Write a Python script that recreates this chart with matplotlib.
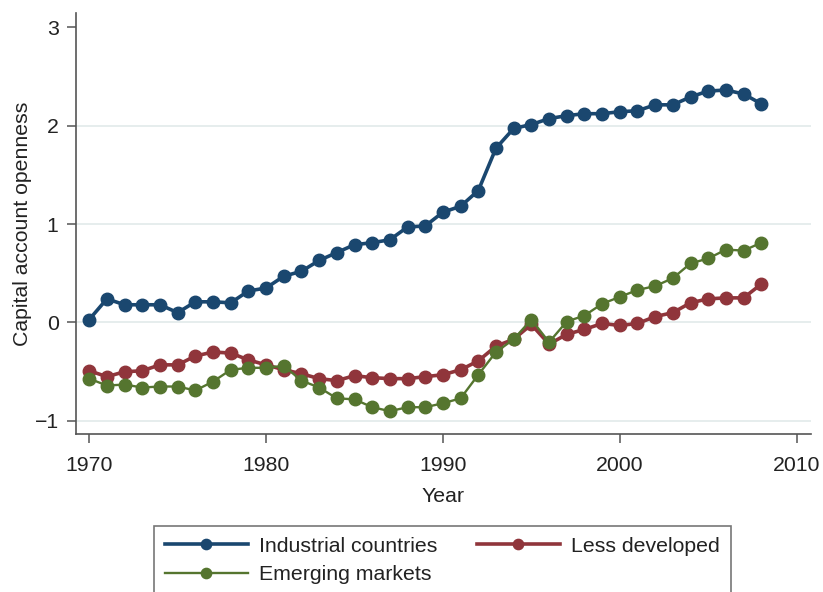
# capital_openness.py
# Capital account openness by country group, 1970-2008 (Stata-like look)

import numpy as np
import matplotlib.pyplot as plt
from matplotlib.lines import Line2D

# =========================
# DATA
# =========================

YEARS = list(range(1970, 2009))

INDUSTRIAL = [
    0.03, 0.24, 0.18, 0.18, 0.18, 0.10, 0.21, 0.21, 0.20, 0.32,
    0.35, 0.47, 0.52, 0.63, 0.71, 0.79, 0.81, 0.84, 0.97, 0.98,
    1.12, 1.18, 1.34, 1.77, 1.97, 2.01, 2.07, 2.10, 2.12, 2.12,
    2.14, 2.15, 2.21, 2.21, 2.29, 2.35, 2.36, 2.32, 2.22,
]

LESS_DEVELOPED = [
    -0.49, -0.55, -0.50, -0.49, -0.43, -0.43, -0.34, -0.30, -0.31, -0.38,
    -0.43, -0.48, -0.52, -0.57, -0.59, -0.54, -0.56, -0.57, -0.57, -0.55,
    -0.53, -0.48, -0.39, -0.24, -0.17, -0.02, -0.22, -0.12, -0.07, -0.01,
    -0.03, -0.01, 0.06, 0.10, 0.20, 0.24, 0.25, 0.25, 0.39,
]

EMERGING = [
    -0.57, -0.64, -0.63, -0.66, -0.65, -0.65, -0.69, -0.60, -0.48, -0.46,
    -0.46, -0.44, -0.59, -0.66, -0.77, -0.78, -0.86, -0.90, -0.86, -0.86,
    -0.82, -0.77, -0.53, -0.30, -0.17, 0.03, -0.20, 0.01, 0.07, 0.19,
    0.26, 0.33, 0.37, 0.45, 0.60, 0.65, 0.74, 0.73, 0.81,
]

LABELS = ["Industrial countries", "Less developed", "Emerging markets"]

X_TICKS = [1970, 1980, 1990, 2000, 2010]
Y_TICKS = [-1, 0, 1, 2, 3]
Y_TICK_LABELS = ["\u22121", "0", "1", "2", "3"]

# Stata s2color palette
NAVY = "#1a476f"
MAROON = "#90353b"
GREEN = "#55752f"
AXIS_COL = "#555555"
GRID_COL = "#e4ecec"
TEXT_COL = "#222222"
FS = 15.3


# =========================
# PLOT
# =========================

def main() -> None:
    plt.rcParams["font.family"] = ["Liberation Sans", "DejaVu Sans"]
    plt.rcParams["font.size"] = FS

    fig = plt.figure(figsize=(8.23, 5.92), dpi=100)
    ax = fig.add_axes([0.0923, 0.2669, 0.8931, 0.7111])

    ms = 9.0
    ax.plot(YEARS, INDUSTRIAL, color=NAVY, lw=2.6, marker="o", ms=ms,
            label=LABELS[0], zorder=3)
    ax.plot(YEARS, LESS_DEVELOPED, color=MAROON, lw=2.6, marker="o", ms=ms,
            label=LABELS[1], zorder=3)
    ax.plot(YEARS, EMERGING, color=GREEN, lw=1.7, marker="o", ms=ms,
            label=LABELS[2], zorder=3)

    ax.set_xlim(1969.25, 2010.81)
    ax.set_ylim(-1.132, 3.142)

    ax.set_xticks(X_TICKS)
    ax.set_yticks(Y_TICKS)
    ax.set_yticklabels(Y_TICK_LABELS)

    ax.tick_params(axis="both", direction="out", length=6.5, width=1.1,
                   color=AXIS_COL, labelsize=FS, labelcolor=TEXT_COL)
    ax.tick_params(axis="x", pad=9)
    ax.tick_params(axis="y", pad=6)

    for side in ("top", "right"):
        ax.spines[side].set_visible(False)
    for side in ("left", "bottom"):
        ax.spines[side].set_color(AXIS_COL)
        ax.spines[side].set_linewidth(1.2)

    ax.yaxis.grid(True, color=GRID_COL, lw=1.3)
    ax.set_axisbelow(True)
    # no gridline at the top tick
    ax.get_ygridlines()[-1].set_visible(False)

    ax.set_xlabel("Year", fontsize=FS, color=TEXT_COL, labelpad=9)
    ax.set_ylabel("Capital account openness", fontsize=FS, color=TEXT_COL,
                  labelpad=1.5)

    # legend: col-major fill -> row1: Industrial, Less developed; row2: Emerging
    handles = [
        Line2D([], [], color=NAVY, lw=2.6, marker="o", ms=7.4),
        Line2D([], [], color=GREEN, lw=1.7, marker="o", ms=7.4),
        Line2D([], [], color=MAROON, lw=2.6, marker="o", ms=7.4),
    ]
    leg_labels = [LABELS[0], LABELS[2], LABELS[1]]
    leg = fig.legend(handles, leg_labels, ncol=2, loc="upper left",
                     bbox_to_anchor=(154 / 823, 1 - 526 / 592),
                     fontsize=FS, frameon=True, fancybox=False,
                     handlelength=3.9, handletextpad=0.55, columnspacing=1.85,
                     borderpad=0.5, labelspacing=0.45, borderaxespad=0)
    frame = leg.get_frame()
    frame.set_edgecolor(AXIS_COL)
    frame.set_linewidth(1.2)
    for t in leg.get_texts():
        t.set_color(TEXT_COL)

    fig.savefig("out.png", dpi=100)


if __name__ == "__main__":
    main()
